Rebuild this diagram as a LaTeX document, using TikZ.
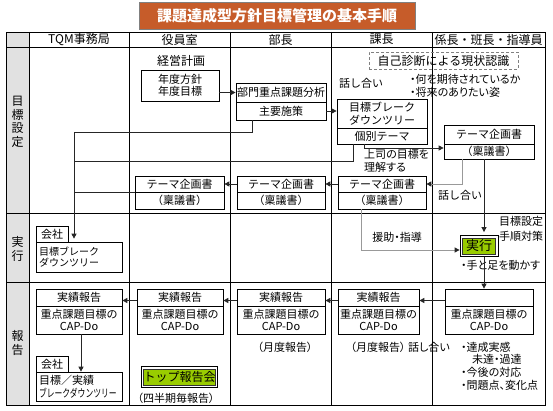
\documentclass[tikz,border=0pt]{standalone}
\usepackage{fontspec}
\setmainfont{Noto Sans CJK JP}
\newfontfamily\jpp{Noto Sans CJK JP}[RawFeature=+palt]
\usepackage{graphicx}
\usetikzlibrary{arrows.meta}
\definecolor{ttl}{RGB}{198,92,42}
\definecolor{lbl}{RGB}{225,225,225}
\definecolor{grn}{RGB}{153,204,0}
\tikzset{
  tbl/.style={draw=black, line width=0.9pt},
  bx/.style={draw=black, line width=0.7pt, inner sep=0pt, align=center, font=\fontsize{11}{12.5}\selectfont},
  lbox/.style={draw=black, line width=0.7pt, inner xsep=3pt, inner ysep=0pt, align=left, text width=80pt, font=\fontsize{11}{12.5}\selectfont},
  hdr/.style={inner sep=0pt, font=\fontsize{12}{12}\selectfont},
  vlab/.style={inner sep=0pt, align=center, font=\fontsize{12}{13.5}\selectfont},
  txt/.style={inner sep=0pt, font=\fontsize{11}{12}\selectfont},
  ptxt/.style={inner sep=0pt, align=left, font=\jpp\fontsize{11}{12.7}\selectfont},
  gout/.style={draw=black, line width=0.8pt, fill=white, inner sep=0pt},
  gin/.style={draw=black!80, line width=0.5pt, fill=grn, inner sep=0pt, font=\fontsize{13}{13}\selectfont},
  arr/.style={draw=black!85, line width=0.8pt, -{Triangle[length=5pt,width=5pt,color=black!85]}},
  ln/.style={draw=black!85, line width=0.8pt},
  garr/.style={draw=black!40, line width=0.9pt, -{Triangle[length=5pt,width=5pt,color=black!85]}},
}
\begin{document}
\begin{tikzpicture}[x=1pt,y=-1pt]
\useasboundingbox (0,0) rectangle (553,411);
% title
\node[fill=ttl, draw=gray, line width=0.8pt, minimum width=276pt, minimum height=27pt, inner sep=0pt, text=white, font=\fontsize{15}{15}\selectfont\bfseries] (title) at (277,15.5) {課題達成型方針目標管理の基本手順};
% table
\fill[lbl] (6,32) rectangle (29,405);
\draw[tbl] (6,32) rectangle (545,405);
\foreach \yy in {47,213,282} \draw[tbl] (6,\yy) -- (545,\yy);
\foreach \xx in {29,129,230,331,432} \draw[tbl] (\xx,32) -- (\xx,405);
% headers
\node[hdr] (h1) at (79,39.5) {TQM事務局};
\node[hdr] (h2) at (179.5,39.5) {役員室};
\node[hdr] (h3) at (280.5,39.5) {部長};
\node[hdr] (h4) at (381.5,39.5) {課長};
\node[hdr] (h5) at (488.5,39.5) {係長・班長・指導員};
% row labels
\node[vlab] (v1) at (17.5,122) {目\\標\\設\\定};
\node[vlab] (v2) at (17.5,249) {実\\行};
\node[vlab] (v3) at (17.5,343) {報\\告};
% target setting row
\node[txt, font=\fontsize{12}{12}\selectfont] (keiei) at (181,61) {経営計画};
\node[bx, minimum width=78pt, minimum height=31pt] (nendo) at (180,85.5) {年度方針\\年度目標};
\node[bx, minimum width=90pt, minimum height=19pt] (bumonU) at (281,92.5) {部門重点課題分析};
\node[bx, minimum width=90pt, minimum height=18pt] (bumonL) at (281,111) {主要施策};
\node[draw=gray, dash pattern=on 3pt off 2pt, line width=0.7pt, minimum width=149pt, minimum height=17pt, inner sep=0pt, font=\fontsize{12}{12}\selectfont] (jiko) at (443.5,60.5) {自己診断による現状認識};
\node[txt] (hanashi1) at (361,83) {話し合い};
\node[ptxt, anchor=west] (nani) at (410,79) {・何を期待されているか};
\node[ptxt, anchor=west] (shorai) at (410,92) {・将来のありたい姿};
\node[bx, minimum width=90pt, minimum height=29pt] (mbU) at (382,113.5) {目標ブレーク\\ダウンツリー};
\node[bx, minimum width=90pt, minimum height=16pt] (kobetsu) at (382,136) {個別テーマ};
\node[bx, minimum width=90pt, minimum height=19pt] (kkU) at (489,134.5) {テーマ企画書};
\node[bx, minimum width=90pt, minimum height=15pt] (kkL) at (489,151.5) {（稟議書）};
\node[ptxt, anchor=north west] (joshi) at (364,149) {上司の目標を\\理解する};
\node[bx, minimum width=88pt, minimum height=16pt] (kaU) at (382,184) {テーマ企画書};
\node[bx, minimum width=88pt, minimum height=17pt] (kaL) at (382,200.5) {（稟議書）};
\node[bx, minimum width=88pt, minimum height=16pt] (buU) at (281,184) {テーマ企画書};
\node[bx, minimum width=88pt, minimum height=17pt] (buL) at (281,200.5) {（稟議書）};
\node[bx, minimum width=89pt, minimum height=16pt] (yaU) at (179.5,184) {テーマ企画書};
\node[bx, minimum width=89pt, minimum height=17pt] (yaL) at (179.5,200.5) {（稟議書）};
\node[txt] (hanashi2) at (460,195) {話し合い};
% execution row
\node[bx, minimum width=32pt, minimum height=16pt] (jk) at (52,234) {会社};
\node[lbox, minimum height=30pt, font=\fontsize{10}{11.5}\selectfont] (jbig) at (79,257) {目標ブレーク\\ダウンツリー};
\node[gout, minimum width=38pt, minimum height=21pt] (g1) at (479,246) {};
\node[gin, minimum width=33pt, minimum height=16pt] (g1in) at (g1.center) {実行};
\node[ptxt, anchor=west, font=\jpp\fontsize{11}{15}\selectfont] (tejun) at (499,228.5) {目標設定\\手順対策};
\node[ptxt] (enjo) at (397,237) {援助・指導};
\node[ptxt, anchor=west] (teashi) at (461,265) {・手と足を動かす};
% report row
\node[bx, minimum width=86pt, minimum height=17pt] (r1U) at (79,297.5) {実績報告};
\node[bx, minimum width=86pt, minimum height=28pt] (r1L) at (79,320) {重点課題目標の\\CAP-Do};
\node[bx, minimum width=86pt, minimum height=17pt] (r2U) at (180,297.5) {実績報告};
\node[bx, minimum width=86pt, minimum height=28pt] (r2L) at (180,320) {重点課題目標の\\CAP-Do};
\node[bx, minimum width=88pt, minimum height=17pt] (r3U) at (281,297.5) {実績報告};
\node[bx, minimum width=88pt, minimum height=28pt] (r3L) at (281,320) {重点課題目標の\\CAP-Do};
\node[bx, minimum width=81pt, minimum height=17pt] (r4U) at (378.5,297.5) {実績報告};
\node[bx, minimum width=81pt, minimum height=28pt] (r4L) at (378.5,320) {重点課題目標の\\CAP-Do};
\node[bx, minimum width=88pt, minimum height=17pt] (r5U) at (489,297.5) {};
\node[bx, minimum width=88pt, minimum height=28pt] (r5L) at (489,320) {重点課題目標の\\CAP-Do};
\node[bx, minimum width=32pt, minimum height=16pt] (rk) at (52,364) {会社};
\node[lbox, minimum height=29pt] (rbig) at (79,386.5) {目標／実績\\\scalebox{0.71}[1]{ブレークダウンツリー}};
\node[gout, minimum width=76pt, minimum height=21pt] (g2) at (179.5,377) {};
\node[gin, minimum width=71pt, minimum height=16pt, font=\fontsize{12}{12}\selectfont] (g2in) at (g2.center) {トップ報告会};
\node[ptxt] (shihan) at (176,398) {（四半期毎報告）};
\node[ptxt] (getsu1) at (285,347) {（月度報告）};
\node[ptxt] (getsu2) at (378,347) {（月度報告）};
\node[ptxt] (hanashi3) at (429,347) {話し合い};
\node[ptxt, anchor=west] (b1) at (461,347) {・達成実感};
\node[ptxt, anchor=west] (b2) at (472,359.5) {未達・過達};
\node[ptxt, anchor=west] (b3) at (461,372) {・今後の対応};
\node[ptxt, anchor=west] (b4) at (461,385) {・問題点、変化点};
% connectors
\coordinate (t1) at (74,132);
\coordinate (t2) at (74,161);
\draw[ln] ([xshift=-29pt]bumonL.south) |- (t1);
\draw[arr, shorten >=3pt] (t1) -- (t1 |- jbig.north);
\draw[ln] ([xshift=-29pt]kobetsu.south) |- (t2);
\draw[ln] (yaU.south west) -- (yaU.south west -| t1);
\draw[arr] (nendo.east |- bumonU.west) -- (bumonU.west);
\draw[arr] (bumonL.east) -- (bumonL.east -| mbU.west);
\draw[arr] ([xshift=-18pt]kobetsu.south) |- ([yshift=3.5pt]kkL.west);
\draw[garr] ([xshift=-27pt]kkL.south) |- (kaU.east);
\draw[arr] (kaU.west) -- (buU.east);
\draw[arr] (buU.west) -- (yaU.east);
\draw[arr, shorten >=3pt] ([xshift=-5pt]kkL.south) -- ([xshift=-5pt]kkL.south |- g1.north);
\draw[garr] ([xshift=-21pt]kaL.south) |- ([yshift=-4pt]g1.west);
\draw[arr] ([xshift=5pt]g1.south) -- ([xshift=5pt]g1.south |- r5U.north);
\draw[arr] ([yshift=-3pt]r5U.west) -- ([yshift=-3pt]r4U.east);
\draw[arr] ([yshift=-3pt]r4U.west) -- ([yshift=-3pt]r3U.east);
\draw[arr] ([yshift=-3pt]r3U.west) -- ([yshift=-3pt]r2U.east);
\draw[arr] ([yshift=-3pt]r2U.west) -- ([yshift=-3pt]r1U.east);
\draw[arr] ([xshift=2pt]r1L.south) -- ([xshift=2pt]r1L.south |- rbig.north);
\end{tikzpicture}
\end{document}
